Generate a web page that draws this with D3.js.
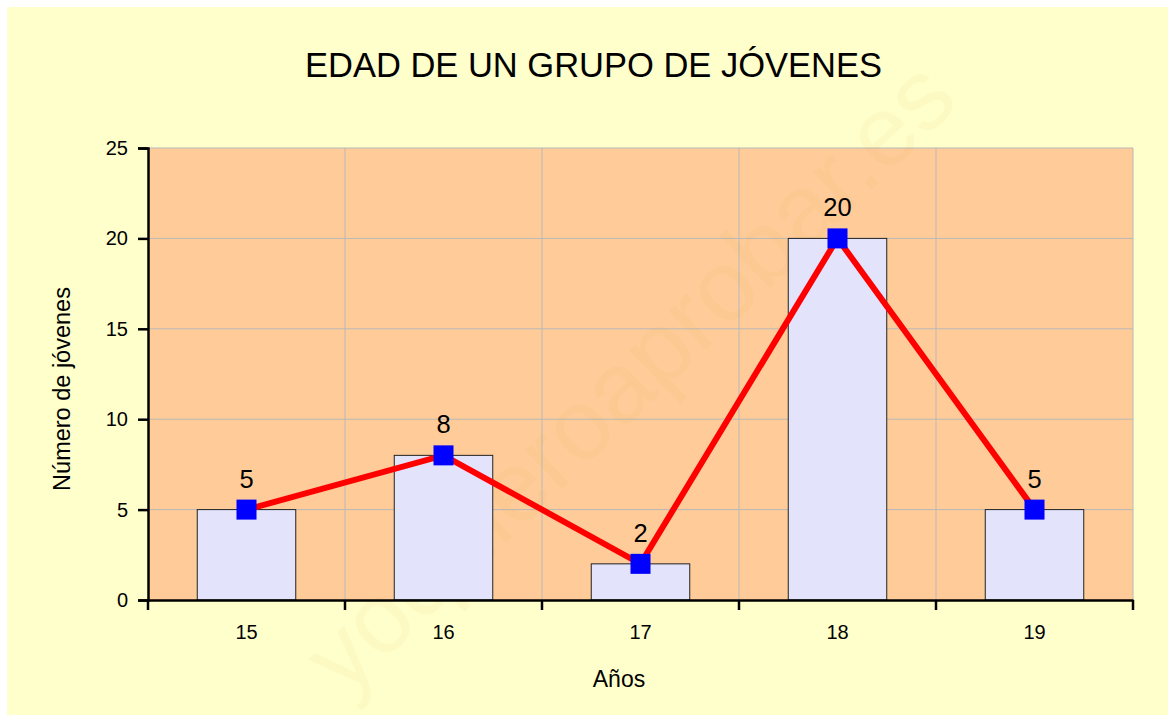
<!DOCTYPE html>
<html>
<head>
<meta charset="utf-8">
<script src="https://cdn.jsdelivr.net/npm/d3@7"></script>
<style>
  body { margin: 0; background: #fff; }
  svg text { font-family: "Liberation Sans", Arial, sans-serif; fill: #000; }
</style>
</head>
<body>
<div id="chart"></div>
<script>
var width = 1175;
var height = 722;

var ages = ['15', '16', '17', '18', '19'];
var counts = [5, 8, 2, 20, 5];
var yTicks = [0, 5, 10, 15, 20, 25];

// plot area edges
var plotLeft = 148, plotRight = 1133, plotTop = 148, plotBottom = 600;

var svg = d3.select('#chart').append('svg')
  .attr('width', width)
  .attr('height', height);

// page background
svg.append('rect')
  .attr('x', 7).attr('y', 7)
  .attr('width', width - 14).attr('height', height - 14)
  .attr('fill', '#FFFFCC');

var xScale = d3.scaleBand()
  .domain(ages)
  .range([plotLeft, plotRight]);

var yScale = d3.scaleLinear()
  .domain([0, 25])
  .range([plotBottom, plotTop]);

// plot area
svg.append('rect')
  .attr('x', plotLeft).attr('y', plotTop)
  .attr('width', plotRight - plotLeft).attr('height', plotBottom - plotTop)
  .attr('fill', '#FFCC99');

// grid
svg.append('g').selectAll('line')
  .data(yTicks.slice(1))
  .enter().append('line')
  .attr('x1', plotLeft).attr('x2', plotRight)
  .attr('y1', d => yScale(d)).attr('y2', d => yScale(d))
  .attr('stroke', '#B8B8B8').attr('stroke-width', 1);

svg.append('g').selectAll('line')
  .data(ages)
  .enter().append('line')
  .attr('x1', d => xScale(d) + xScale.bandwidth()).attr('x2', d => xScale(d) + xScale.bandwidth())
  .attr('y1', plotTop).attr('y2', plotBottom)
  .attr('stroke', '#B8B8B8').attr('stroke-width', 1);

// faint watermark
svg.append('text')
  .attr('transform', 'translate(345,698) rotate(-44)')
  .style('font-size', '100px')
  .style('fill', '#D9A030')
  .style('opacity', 0.06)
  .text('yoquieroaprobar.es');

// bars
svg.append('g').selectAll('rect')
  .data(counts)
  .enter().append('rect')
  .attr('x', (d, i) => xScale(ages[i]) + xScale.bandwidth() / 4)
  .attr('width', xScale.bandwidth() / 2)
  .attr('y', d => yScale(d))
  .attr('height', d => plotBottom - yScale(d))
  .attr('fill', '#E3E3FC')
  .attr('stroke', '#222').attr('stroke-width', 1);

// axes
var yAxis = d3.axisLeft(yScale).tickValues(yTicks).tickSize(10).tickPadding(10);
var gy = svg.append('g')
  .attr('transform', 'translate(' + plotLeft + ',0)')
  .call(yAxis);
gy.select('.domain').attr('stroke', '#000').attr('stroke-width', 2.5);
gy.selectAll('.tick line').attr('stroke', '#000').attr('stroke-width', 2.5);
gy.selectAll('text').style('font-size', '20px');

var xAxis = d3.axisBottom(xScale).tickSize(0).tickPadding(25);
var gx = svg.append('g')
  .attr('transform', 'translate(0,' + plotBottom + ')')
  .call(xAxis);
gx.select('.domain').attr('stroke', '#000').attr('stroke-width', 2.5);
gx.selectAll('text').style('font-size', '20px');

var bounds = ages.map(d => xScale(d)).concat([plotRight]);
gx.selectAll('.bound')
  .data(bounds)
  .enter().append('line')
  .attr('class', 'bound')
  .attr('x1', d => d).attr('x2', d => d)
  .attr('y1', 0).attr('y2', 10)
  .attr('stroke', '#000').attr('stroke-width', 2.5);

// line
var line = d3.line()
  .x((d, i) => xScale(ages[i]) + xScale.bandwidth() / 2)
  .y(d => yScale(d));

svg.append('path')
  .datum(counts)
  .attr('d', line)
  .attr('fill', 'none')
  .attr('stroke', '#FF0000')
  .attr('stroke-width', 6);

svg.append('g').selectAll('rect')
  .data(counts)
  .enter().append('rect')
  .attr('x', (d, i) => xScale(ages[i]) + xScale.bandwidth() / 2 - 10)
  .attr('y', d => yScale(d) - 10)
  .attr('width', 20).attr('height', 20)
  .attr('fill', '#0000FF');

// value labels
svg.append('g').selectAll('text')
  .data(counts)
  .enter().append('text')
  .attr('x', (d, i) => xScale(ages[i]) + xScale.bandwidth() / 2)
  .attr('y', d => yScale(d) - 22)
  .attr('text-anchor', 'middle')
  .style('font-size', '25.5px')
  .text(d => d);

// titles
svg.append('text')
  .attr('x', 593.5).attr('y', 77)
  .attr('text-anchor', 'middle')
  .style('font-size', '34.5px')
  .text('EDAD DE UN GRUPO DE JÓVENES');

svg.append('text')
  .attr('x', 619).attr('y', 687)
  .attr('text-anchor', 'middle')
  .style('font-size', '23px')
  .text('Años');

svg.append('text')
  .attr('transform', 'translate(70,389) rotate(-90)')
  .attr('text-anchor', 'middle')
  .style('font-size', '23.5px')
  .text('Número de jóvenes');
</script>
</body>
</html>
